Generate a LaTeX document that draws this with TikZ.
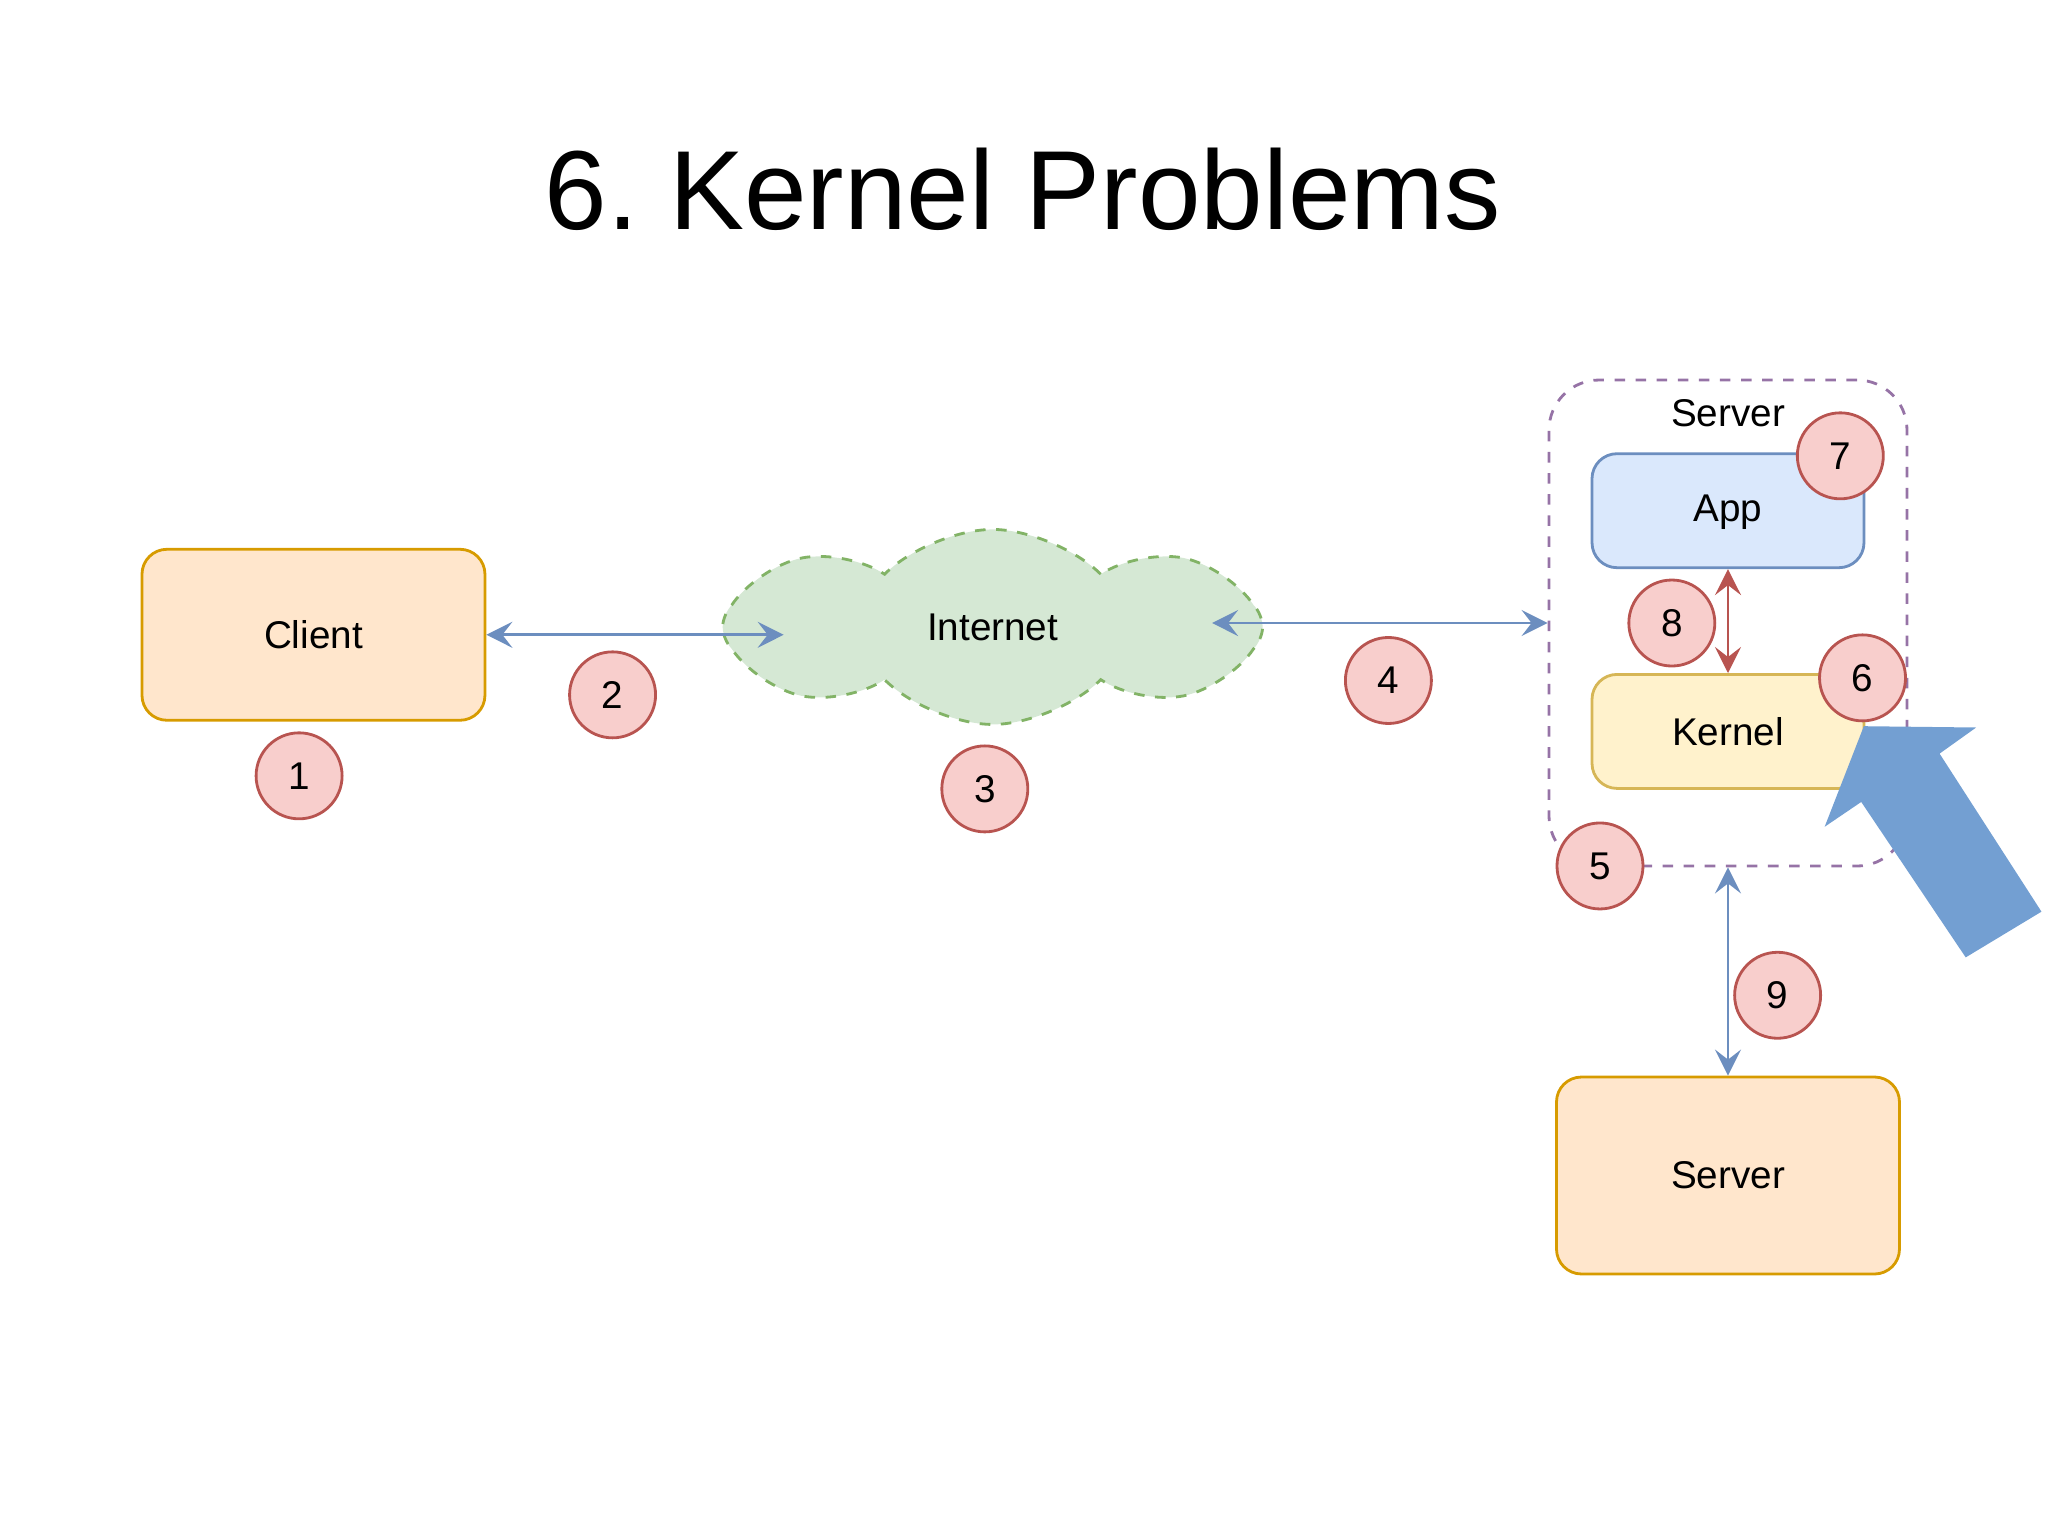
\documentclass[tikz,border=0pt]{standalone}
\usepackage{fontspec}
\setmainfont{Liberation Sans}
\usetikzlibrary{shapes.symbols,arrows.meta,positioning}
\definecolor{orgFill}{HTML}{FFE6CC}
\definecolor{orgLine}{HTML}{D79B00}
\definecolor{grnFill}{HTML}{D5E8D4}
\definecolor{grnLine}{HTML}{82B366}
\definecolor{bluFill}{HTML}{DAE8FC}
\definecolor{bluLine}{HTML}{6C8EBF}
\definecolor{ylwFill}{HTML}{FFF2CC}
\definecolor{ylwLine}{HTML}{D6B656}
\definecolor{redFill}{HTML}{F8CECC}
\definecolor{redLine}{HTML}{B85450}
\definecolor{prpLine}{HTML}{9673A6}
\definecolor{bigArrow}{HTML}{739FD2}
\tikzset{%
    >={Stealth[length=2.6mm,width=2.6mm,inset=1mm]},
    base/.style = {
        rectangle, rounded corners=2.5mm, draw, line width=0.8pt,
        text centered, font=\fontsize{11}{13}\selectfont
    },
    machine/.style = {base, fill=orgFill, draw=orgLine,
        minimum width=3.43cm, minimum height=1.71cm},
    layer/.style = {base, fill=#1Fill, draw=#1Line,
        minimum width=2.72cm, minimum height=1.14cm},
    marker/.style = {
        circle, draw=redLine, fill=redFill, line width=0.8pt,
        minimum size=0.86cm, inner sep=0pt, font=\fontsize{11}{13}\selectfont
    },
    link/.style = {<->, draw=bluLine, line width=0.8pt},
}

\begin{document}
\frenchspacing
\begin{tikzpicture}[x=0.01306cm, y=-0.01306cm]
        \useasboundingbox (0,0) rectangle (1568,1175);
        % Title
        \node (title) at (783,145) {\fontsize{32}{36}\selectfont 6. Kernel Problems};
        % Nodes position
        \node (client) [machine] at (240,486) {Client};
        \node (net) [cloud, cloud puffs=8, cloud puff arc=90, aspect=2.8,
            draw=grnLine, fill=grnFill, dashed, line width=0.8pt,
            minimum width=5.4cm, minimum height=1.95cm,
            font=\fontsize{11}{13}\selectfont]
            at (760,480) {Internet};
        \node (group) [draw=prpLine, dashed, line width=0.8pt,
            rounded corners=5mm, minimum width=3.58cm, minimum height=4.86cm]
            at (1323,477) {};
        \node (groupLabel) [font=\fontsize{11}{13}\selectfont] at (1323,316) {Server};
        \node (app) [layer=blu, text depth=0.5mm] at (1323,391) {App};
        \node (kernel) [layer=ylw] at (1323,560) {Kernel};
        \node (backend) [machine, minimum height=1.97cm] at (1323,900) {Server};
        % Big pointer
        \fill[bigArrow] (1427,556) -- (1513,557) -- (1485,577) -- (1563,698)
            -- (1505,733) -- (1425,614) -- (1397,633) -- cycle;
        % Steps
        \foreach \num/\px/\py in {1/229/594, 2/469/532, 3/754/604, 4/1063/521,
            5/1225/663, 6/1426/519, 7/1409/349, 8/1280/477, 9/1361/762}
            \node (step\num) [marker] at (\px,\py) {\num};
        % Arrow specification
        \coordinate (netIn) at (600,486);
        \coordinate (netOut) at (928,477);
        \draw[link] (client.east |- netIn) -- (netIn);
        \draw[link] (netOut) -- (group.west |- netOut);
        \draw[<->, draw=redLine, line width=0.8pt] (app.south) -- (kernel.north);
        \draw[link] (group.south) -- (backend.north);
    \end{tikzpicture}
\end{document}
